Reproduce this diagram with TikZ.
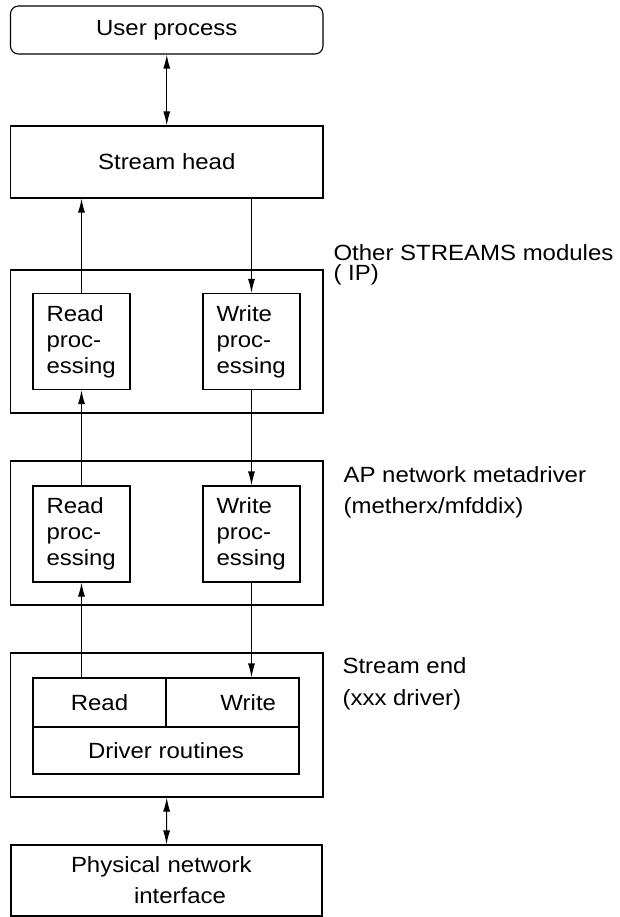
\documentclass[tikz,border=0pt]{standalone}
\usepackage{fontspec}
\setmainfont[FakeStretch=1.09]{Liberation Sans}
\usetikzlibrary{arrows.meta}

\tikzset{
  every node/.style={font=\fontsize{22}{26}\selectfont},
  box/.style={draw, line width=1.1pt, inner sep=0pt},
  layerbox/.style={box, minimum width=312.5pt, minimum height=144pt},
  procbox/.style={box, minimum width=97pt, minimum height=96pt, text width=70pt, align=left},
  cellbox/.style={box, minimum height=49pt},
  sidelabel/.style={anchor=base west, inner sep=0pt, align=left}
}

\begin{document}
\begin{tikzpicture}[x=1pt, y=-1pt, >={Latex[length=14pt,width=7pt]}, line width=1.1pt]
  \useasboundingbox (0,0) rectangle (620,917);
  % top of the stream
  \node[box, rounded corners=8pt, minimum width=312.5pt, minimum height=48pt] (user) at (166.75,30) {User process};
  \node[box, minimum width=312.5pt, minimum height=72pt] (head) at (166.75,162) {Stream head};
  % modules
  \node[layerbox, minimum height=143pt] (mod1) at (166.75,341.5) {};
  \node[procbox] (rd1) at (81.5,341.5) {Read\\proc-\\essing};
  \node[procbox] (wr1) at (251.5,341.5) {Write\\proc-\\essing};
  \node[layerbox] (mod2) at (166.75,533) {};
  \node[procbox] (rd2) at (81.5,534) {Read\\proc-\\essing};
  \node[procbox] (wr2) at (251.5,534) {Write\\proc-\\essing};
  % driver
  \node[layerbox] (mod3) at (166.75,725) {};
  \node[cellbox, minimum width=133pt] (drvrd) at (99.5,702.5) {Read};
  \node[cellbox, minimum width=133pt, text width=87pt, align=right] (drvwr) at (232.5,702.5) {Write};
  \node[box, minimum width=266pt, minimum height=47pt] (drvrt) at (166,750.5) {Driver routines};
  \node[box, minimum width=311pt, minimum height=71pt, text width=191pt, align=left] (phys) at (166.5,880.5) {Physical network\\[5pt]\hspace*{63pt}interface};
  % labels on the right (placed at the last line)
  \node[sidelabel] (lblmod) at (333,280) {Other STREAMS modules\\[-6pt]( IP)};
  \node[sidelabel] (lblmeta) at (343,513) {AP network metadriver\\[5pt](metherx/mfddix)};
  \node[sidelabel] (lblend) at (342,705) {Stream end\\[6pt](xxx driver)};
  % arrows
  \draw[<->] (user.south) -- (head.north);
  \draw[->] (rd1.north) -- (rd1.north |- head.south);
  \draw[->] (head.south -| wr1.north) -- (wr1.north);
  \draw[->] (rd2.north) -- (rd1.south);
  \draw[->] (wr1.south) -- (wr2.north);
  \draw[->] (drvrd.north -| rd2.south) -- (rd2.south);
  \draw[->] (wr2.south) -- (wr2.south |- drvwr.north);
  \draw[<->] (mod3.south) -- (phys.north);
\end{tikzpicture}
\end{document}
